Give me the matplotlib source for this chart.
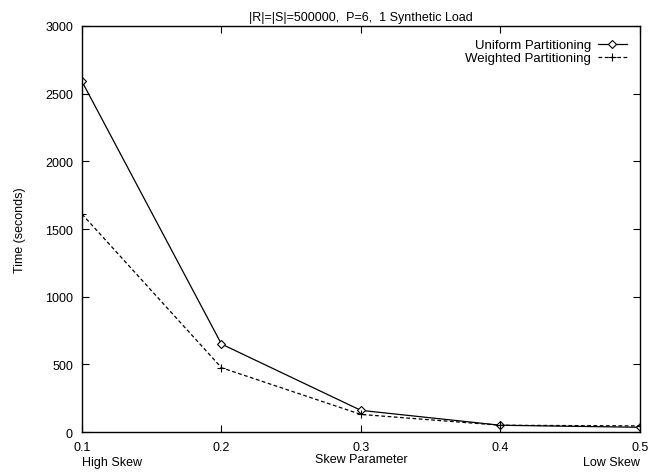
import matplotlib
matplotlib.use("Agg")
import matplotlib.pyplot as plt

plt.rcParams['font.family'] = ['Liberation Sans', 'DejaVu Sans']

skew = [0.1, 0.2, 0.3, 0.4, 0.5]
uniform = [2590, 650, 160, 50, 35]
weighted = [1610, 475, 130, 50, 45]

fig = plt.figure(figsize=(6.63, 4.77), dpi=100)
ax = fig.add_axes([0.1237, 0.0922, 0.8413, 0.8512])

ax.plot(skew, uniform, color='black', lw=0.9, marker='D', ms=4,
        mfc='white', mec='black', mew=0.8, label='Uniform Partitioning')
ax.plot(skew, weighted, color='black', lw=0.9, ls=(0, (3, 2)), marker='+', ms=6,
        mew=0.8, label='Weighted Partitioning')

ax.set_xlim(0.1, 0.5)
ax.set_ylim(0, 3000)
ax.set_xticks(skew)
ax.set_xticklabels(['0.1', '0.2', '0.3', '0.4', '0.5'])
ax.set_yticks(range(0, 3001, 500))
ax.tick_params(direction='in', top=True, right=True, labelsize=9, length=5, width=0.8, pad=6.5)
for s in ax.spines.values():
    s.set_linewidth(1.0)

ax.set_ylabel('Time (seconds)', fontsize=9, labelpad=14)
ax.set_title('|R|=|S|=500000,  P=6,  1 Synthetic Load', fontsize=9, pad=4)
ax.text(0.5, -0.052, 'Skew Parameter', transform=ax.transAxes, ha='center', va='top', fontsize=9)
ax.text(0.0, -0.058, 'High Skew', transform=ax.transAxes, ha='left', va='top', fontsize=9)
ax.text(1.0, -0.058, 'Low Skew', transform=ax.transAxes, ha='right', va='top', fontsize=9)

leg = ax.legend(loc='upper right', markerfirst=False, frameon=False, fontsize=9.5,
                handlelength=2.2, handletextpad=0.5, labelspacing=0.05,
                borderaxespad=0.6)

fig.savefig('out.png', dpi=100)
